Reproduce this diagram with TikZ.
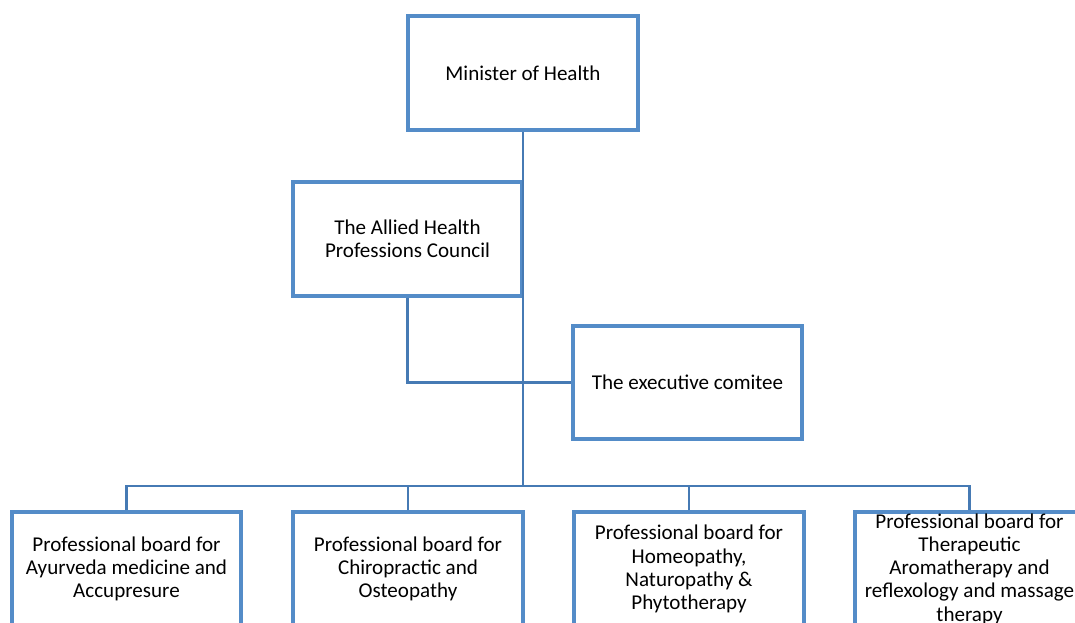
\documentclass[tikz,border=0pt]{standalone}
\usepackage{fontspec}
\setmainfont{Carlito}
\usepackage{tikz}
\usetikzlibrary{positioning}
\usetikzlibrary{calc}

\definecolor{boxBlue}{RGB}{84,140,200}
\definecolor{linkBlue}{RGB}{70,122,180}

\begin{document}
\begin{tikzpicture}[
	x=0.75pt, y=0.75pt,
	box/.style={
		draw=boxBlue,
		line width=3pt,
		fill=white,
		minimum width=172pt,
		minimum height=85pt,
		inner sep=0pt,
		align=center,
		font=\fontsize{15.8}{17.4}\selectfont
	},
	link/.style={draw=linkBlue, line width=2.2pt}
]
\useasboundingbox (0,0) rectangle (1075,-622);
\clip (0,0) rectangle (1075,-622);

% --- top of the chart
\node[box] (minister) at (523,-73) {Minister of Health};
\node[box] (council) at (407.5,-239) {The Allied Health\\Professions Council};
\node[box] (executive) at (687.5,-382.5) {The executive comitee};

% --- professional boards
\node[box] (ayurveda) at (126.5,-569) {Professional board for\\Ayurveda medicine and\\Accupresure};
\node[box] (chiro) at (408,-569) {Professional board for\\Chiropractic and\\Osteopathy};
\node[box] (homeo) at (689,-569) {Professional board for\\Homeopathy,\\Naturopathy \&\\Phytotherapy};
\node[box, inner ysep=-2pt] (aroma) at (969.5,-569) {Professional board for\\Therapeutic\\Aromatherapy and\\reflexology and massage\\therapy};

\coordinate (bus) at (523,-486);

% --- connectors
\draw[link] (minister.south) -- (bus);
\draw[link] (council.south) |- (executive.west);
\draw[link] (ayurveda.north) |- (bus) -| (aroma.north);
\draw[link] (chiro.north) -- (chiro.north |- bus);
\draw[link] (homeo.north) -- (homeo.north |- bus);

\end{tikzpicture}
\end{document}
